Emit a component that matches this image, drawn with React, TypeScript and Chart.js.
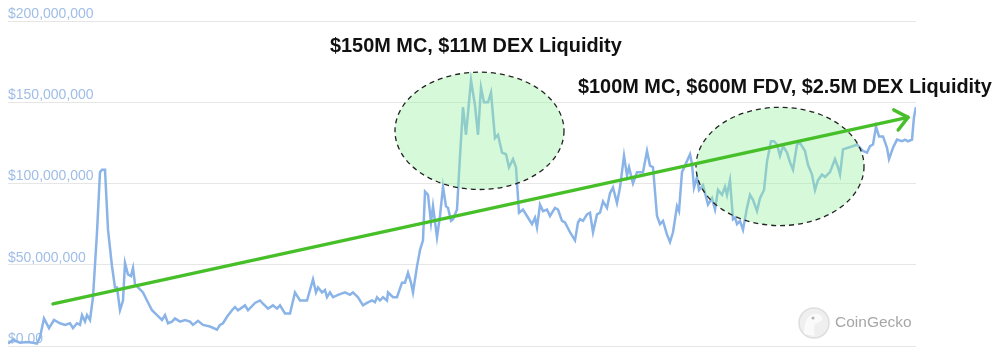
import React, { useEffect, useRef } from "react";
import { Chart, registerables } from "chart.js";

Chart.register(...registerables);

// Day index since start of chart
const days = [
  0, 5, 12, 19, 25, 29, 32, 36, 41, 46, 52, 57, 62, 65, 69, 72, 74, 77, 79, 82,
  85, 89, 92, 94, 97, 100, 104, 107, 109, 112, 115, 117, 120, 123, 125, 127, 130, 135, 139, 144,
  149, 154, 157, 160, 164, 167, 172, 177, 182, 185, 190, 195, 202, 209, 212, 215, 219, 224, 227, 230,
  237, 240, 247, 252, 255, 260, 265, 269, 272, 277, 282, 287, 292, 299, 305, 308, 310, 314, 317, 319,
  322, 325, 330, 337, 342, 345, 350, 355, 359, 364, 367, 369, 372, 375, 379, 380, 385, 389, 394, 397,
  400, 403, 405, 409, 412, 415, 417, 420, 423, 425, 429, 432, 435, 438, 440, 443, 445, 449, 452, 455,
  458, 463, 467, 470, 473, 476, 480, 483, 487, 490, 494, 498, 501, 505, 508, 511, 515, 519, 524, 527,
  529, 532, 535, 539, 542, 547, 550, 554, 557, 562, 567, 570, 572, 575, 579, 582, 585, 589, 592, 595,
  599, 602, 605, 609, 612, 616, 619, 621, 625, 629, 632, 635, 639, 642, 645, 649, 652, 655, 659, 662,
  665, 669, 671, 674, 677, 682, 684, 686, 689, 691, 695, 700, 704, 707, 710, 714, 717, 719, 722, 725,
  727, 729, 732, 735, 739, 742, 745, 749, 752, 756, 759, 763, 766, 769, 772, 775, 779, 782, 785, 789,
  792, 797, 800, 804, 807, 810, 814, 817, 822, 827, 830, 832, 835, 840, 845, 849, 852, 855, 859, 862,
  865, 868, 871, 875, 879, 881, 885, 889, 894, 897, 900, 904, 906, 908,
];

// Market cap in millions of USD
const marketCapM = [
  1.5, 3.7, 2, 2.5, 2, 1.5, 5.5, 17, 11, 16, 14, 13, 14, 11, 14, 13, 19, 15, 19, 16,
  30, 70, 107, 108.5, 108.5, 71.6, 49, 36, 36, 22, 28, 51, 44, 43, 48, 38, 36, 33, 28, 22,
  19, 16, 19, 14, 15, 17, 15, 16, 15, 13, 15.5, 13, 12, 10, 13, 14, 18, 22, 24, 22,
  25, 22, 26.5, 28, 26, 23, 25, 23, 25, 20, 20, 33, 28, 28, 41, 33, 36, 33, 34.5, 30,
  33, 30, 31.5, 33, 31.5, 33, 30, 25, 26.5, 28, 27, 30, 28, 30, 28, 33, 30, 30, 39, 39,
  45, 39, 33, 49, 59, 65, 95, 93, 76, 86, 67, 80, 98, 86, 85, 77, 78, 84, 117, 147,
  130, 163.5, 148, 130, 159, 150, 150, 156, 128, 130, 119, 118, 110, 115, 110, 82, 84, 80, 75, 79,
  73, 87, 83, 84, 80, 85, 84, 77, 76, 70, 65, 76, 78, 77, 81, 82, 70, 81, 82, 89,
  85, 94, 97.5, 88, 97.5, 117, 105, 110, 100, 107, 107, 107, 120, 111, 110, 80, 75, 77, 68.5, 64,
  70, 86, 83, 107, 111, 118, 112, 97.5, 104, 96, 99, 87, 91, 84, 96, 93, 98, 93, 102, 78,
  79, 75, 77, 71.5, 85, 93, 90, 83, 91, 96, 113.5, 126, 126, 124, 117, 123, 119, 113, 108.5, 124,
  125, 120, 111.5, 105.5, 96, 102, 105.5, 104, 107, 115, 110, 105.5, 121, 122, 123, 124, 122, 120, 119, 123,
  124, 135, 129, 129, 122, 115, 122, 127, 126, 127, 126, 127, 141, 147,
];

const yTicksM = [0, 50, 100, 150, 200];
const yTickLabels = ["$0.00", "$50,000,000", "$100,000,000", "$150,000,000", "$200,000,000"];

// Highlight ellipses in data units (center day / value M, radius days / M)
const highlightCenterDays = [471.5, 772];
const highlightCenterM = [132.4, 110.5];
const highlightRadiusDays = [84.5, 84];
const highlightRadiusM = [36.1, 36.4];

// Trend arrow endpoints in data units
const trendDays = [45, 900];
const trendM = [25.9, 140.7];

// Annotation texts, anchored at left / middle in data units
const noteTexts = ["$150M MC, $11M DEX Liquidity", "$100M MC, $600M FDV, $2.5M DEX Liquidity"];
const noteDays = [322, 570];
const noteM = [184.6, 159.3];

const overlayPlugin = {
  id: "overlay",
  afterDatasetsDraw(chart: any) {
    const { ctx, chartArea } = chart;
    const xs = chart.scales.x;
    const ys = chart.scales.y;
    ctx.save();

    // ellipses
    for (let i = 0; i < highlightCenterDays.length; i++) {
      const cx = xs.getPixelForValue(highlightCenterDays[i]);
      const cy = ys.getPixelForValue(highlightCenterM[i]);
      const rx = xs.getPixelForValue(highlightCenterDays[i] + highlightRadiusDays[i]) - cx;
      const ry = cy - ys.getPixelForValue(highlightCenterM[i] + highlightRadiusM[i]);
      ctx.beginPath();
      ctx.ellipse(cx, cy, rx, ry, 0, 0, Math.PI * 2);
      ctx.fillStyle = "rgba(150, 240, 160, 0.4)";
      ctx.fill();
      ctx.setLineDash([5, 4]);
      ctx.lineWidth = 1.3;
      ctx.strokeStyle = "#222";
      ctx.stroke();
    }
    ctx.setLineDash([]);

    // arrow
    const x0 = xs.getPixelForValue(trendDays[0]);
    const y0 = ys.getPixelForValue(trendM[0]);
    const x1 = xs.getPixelForValue(trendDays[1]);
    const y1 = ys.getPixelForValue(trendM[1]);
    ctx.strokeStyle = "#47bf29";
    ctx.lineWidth = 3.5;
    ctx.lineCap = "round";
    ctx.lineJoin = "round";
    ctx.beginPath();
    ctx.moveTo(x0, y0);
    ctx.lineTo(x1, y1);
    ctx.stroke();
    const ang = Math.atan2(y1 - y0, x1 - x0);
    const head = 16;
    const spread = (40 * Math.PI) / 180;
    ctx.beginPath();
    ctx.moveTo(x1 - head * Math.cos(ang - spread), y1 - head * Math.sin(ang - spread));
    ctx.lineTo(x1, y1);
    ctx.lineTo(x1 - head * Math.cos(ang + spread), y1 - head * Math.sin(ang + spread));
    ctx.stroke();

    // notes
    ctx.fillStyle = "#111";
    ctx.textBaseline = "middle";
    ctx.textAlign = "left";
    ctx.font = "bold 19px 'Liberation Sans', Arial, sans-serif";
    const w = ctx.measureText(noteTexts[1]).width;
    const size = (19 * 414) / w;
    ctx.font = `bold ${size.toFixed(2)}px 'Liberation Sans', Arial, sans-serif`;
    for (let i = 0; i < noteTexts.length; i++) {
      ctx.fillText(noteTexts[i], xs.getPixelForValue(noteDays[i]), ys.getPixelForValue(noteM[i]));
    }

    // CoinGecko watermark
    const lx = chartArea.right - 102;
    const ly = chartArea.bottom - 23;
    ctx.beginPath();
    ctx.arc(lx, ly, 15, 0, Math.PI * 2);
    ctx.fillStyle = "#efefef";
    ctx.fill();
    ctx.lineWidth = 1.5;
    ctx.strokeStyle = "#dedede";
    ctx.stroke();
    ctx.beginPath();
    ctx.moveTo(lx - 10, ly + 11);
    ctx.quadraticCurveTo(lx - 10, ly - 6, lx - 1, ly - 9);
    ctx.quadraticCurveTo(lx + 7, ly - 10, lx + 9, ly - 4);
    ctx.quadraticCurveTo(lx + 6, ly - 1, lx + 1, ly + 1);
    ctx.quadraticCurveTo(lx - 1, ly + 6, lx + 1, ly + 13);
    ctx.closePath();
    ctx.fillStyle = "#fafafa";
    ctx.fill();
    ctx.beginPath();
    ctx.arc(lx - 1, ly - 5, 1.6, 0, Math.PI * 2);
    ctx.fillStyle = "#b5b5b5";
    ctx.fill();
    ctx.font = "15.5px 'Liberation Sans', Arial, sans-serif";
    ctx.fillStyle = "#a6a6a6";
    ctx.fillText("CoinGecko", lx + 21, ly);

    ctx.restore();
  },
};

export default function App() {
  const ref = useRef<HTMLCanvasElement>(null);
  useEffect(() => {
    document.body.style.margin = "0";
    const canvas = ref.current!;
    const chart = new Chart(canvas, {
      type: "line",
      data: {
        datasets: [
          {
            data: days.map((d, i) => ({ x: d, y: marketCapM[i] })),
            borderColor: "#8ab4e7",
            borderWidth: 2.5,
            pointRadius: 0,
            tension: 0,
            fill: false,
          },
        ],
      },
      options: {
        animation: false,
        responsive: false,
        devicePixelRatio: 1,
        layout: { padding: { left: 8, right: 84, top: 21, bottom: 10 } },
        plugins: { legend: { display: false }, tooltip: { enabled: false } },
        scales: {
          x: { type: "linear", min: 0, max: 908, display: false },
          y: {
            min: 0,
            max: 200,
            afterBuildTicks: (axis: any) => {
              axis.ticks = yTicksM.map((v) => ({ value: v }));
            },
            grid: { color: "#e6e6e6", drawTicks: false, lineWidth: 1 },
            border: { display: false },
            ticks: {
              mirror: true,
              padding: 0,
              labelOffset: -7,
              color: "#9fbde6",
              font: { family: "'Liberation Sans', Arial, sans-serif", size: 14 },
              callback: (v: any) => {
                const idx = yTicksM.indexOf(Number(v));
                return idx >= 0 ? yTickLabels[idx] : "";
              },
            },
          },
        },
      },
      plugins: [overlayPlugin],
    });
    return () => chart.destroy();
  }, []);
  return (
    <div style={{ position: "absolute", left: 0, top: 0, width: 1000, height: 356, background: "#fff" }}>
      <canvas ref={ref} width={1000} height={356} style={{ width: 1000, height: 356, display: "block" }} />
    </div>
  );
}
